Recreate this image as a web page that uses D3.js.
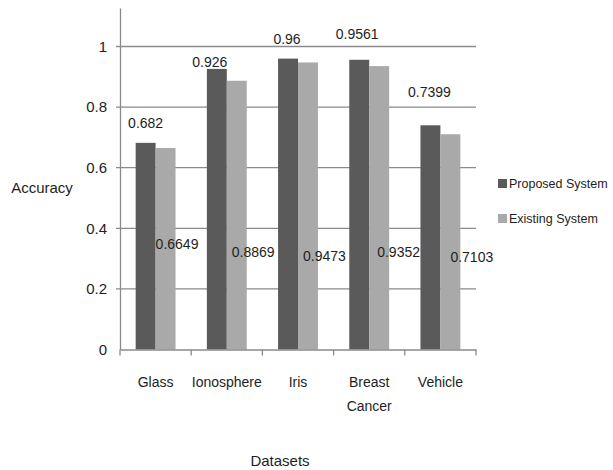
<!DOCTYPE html>
<html>
<head>
<meta charset="utf-8">
<script src="https://cdn.jsdelivr.net/npm/d3@7"></script>
<style>
  body { margin: 0; background: #fff; }
  text { font-family: "Liberation Sans", Arial, sans-serif; fill: #1e1e1e; }
</style>
</head>
<body>
<div id="chart-area"></div>
<script>
// data
const datasets = ["Glass", "Ionosphere", "Iris", "Breast Cancer", "Vehicle"]
const seriesNames = ["Proposed System", "Existing System"]
const proposed = [0.682, 0.926, 0.96, 0.9561, 0.7399]
const existing = [0.6649, 0.8869, 0.9473, 0.9352, 0.7103]
const yTicks = [0, 0.2, 0.4, 0.6, 0.8, 1]

// label nudges (layout only), the labels in the original were dragged by hand
const proposedNudge = [[0, -20], [-7, -7], [-1, -20], [-2, -26], [-1, -33]]
const existingNudge = [[0, 244], [5, 252], [5, 256], [8, 252], [10, 257]]

const colors = ["#5a5a5a", "#a9a9a9"]

function drawChart() {
    const svgWidth = 613
    const svgHeight = 470
    const margin = { left: 120, right: 137, top: 8, bottom: 120.5 }
    const chartWidth = svgWidth - margin.left - margin.right
    const chartHeight = svgHeight - margin.top - margin.bottom

    const svg = d3.select("#chart-area")
      .append("svg")
      .attr("width", svgWidth)
      .attr("height", svgHeight)

    const chart = svg.append("g")
      .attr("transform", `translate(${margin.left},${margin.top})`)

    const xScale = d3.scaleBand()
        .domain(datasets)
        .range([0, chartWidth])
        .padding(0)

    const xInner = d3.scaleBand()
        .domain(seriesNames)
        .range([xScale.bandwidth() * 0.22, xScale.bandwidth() * 0.78])

    const yScale = d3.scaleLinear()
        .domain([0, 1.127])
        .range([chartHeight, 0])

    // gridlines
    chart.append("g")
        .selectAll("line")
        .data(yTicks.filter(d => d > 0))
        .join("line")
        .attr("x1", -4)
        .attr("x2", chartWidth)
        .attr("y1", d => yScale(d))
        .attr("y2", d => yScale(d))
        .attr("stroke", "#8a8a8a")
        .attr("stroke-width", 1.3)

    // bars
    const rows = datasets.map((d, i) => ({ name: d, values: [proposed[i], existing[i]] }))

    const groups = chart.append("g")
        .selectAll("g")
        .data(rows)
        .join("g")
        .attr("transform", d => `translate(${xScale(d.name)},0)`)

    groups.selectAll("rect")
        .data(d => d.values.map((v, j) => ({ series: seriesNames[j], value: v, j })))
        .join("rect")
        .attr("x", d => xInner(d.series))
        .attr("width", xInner.bandwidth())
        .attr("y", d => yScale(d.value))
        .attr("height", d => chartHeight - yScale(d.value))
        .attr("fill", d => colors[d.j])

    // value labels
    chart.append("g")
        .selectAll("text")
        .data(proposed)
        .join("text")
        .attr("x", (d, i) => xScale(datasets[i]) + xInner(seriesNames[0]) + xInner.bandwidth() / 2 + proposedNudge[i][0])
        .attr("y", (d, i) => yScale(d) + proposedNudge[i][1])
        .attr("dy", "0.35em")
        .attr("text-anchor", "middle")
        .style("font-size", "14px")
        .text(d => d)

    chart.append("g")
        .selectAll("text")
        .data(existing)
        .join("text")
        .attr("x", (d, i) => xScale(datasets[i]) + xInner(seriesNames[1]) + existingNudge[i][0])
        .attr("y", (d, i) => existingNudge[i][1] - margin.top)
        .attr("dy", "0.35em")
        .attr("text-anchor", "start")
        .style("font-size", "14px")
        .text(d => d)

    // x axis
    const xAxis = chart.append("g")
        .attr("transform", `translate(0,${chartHeight})`)
        .call(d3.axisBottom(xScale).tickSize(0).tickFormat(""))
    xAxis.select(".domain").attr("stroke", "#8a8a8a").attr("stroke-width", 1.3)

    xAxis.append("g")
        .selectAll("line")
        .data(d3.range(datasets.length + 1))
        .join("line")
        .attr("x1", i => i * xScale.step())
        .attr("x2", i => i * xScale.step())
        .attr("y1", 0)
        .attr("y2", 6)
        .attr("stroke", "#8a8a8a")
        .attr("stroke-width", 1.3)

    xAxis.append("g")
        .selectAll("text")
        .data(datasets)
        .join("text")
        .attr("x", d => xScale(d) + xScale.bandwidth() / 2)
        .attr("y", 33)
        .attr("dy", "0.35em")
        .attr("text-anchor", "middle")
        .style("font-size", "14px")
        .each(function(d) {
            const words = d.split(" ")
            d3.select(this).selectAll("tspan")
              .data(words)
              .join("tspan")
              .attr("x", xScale(d) + xScale.bandwidth() / 2)
              .attr("dy", (w, k) => k === 0 ? "0.35em" : "1.7em")
              .text(w => w)
        })

    xAxis.append("text")
        .attr("x", 160)
        .attr("y", 111)
        .attr("dy", "0.35em")
        .attr("text-anchor", "middle")
        .style("font-size", "15px")
        .text("Datasets")

    // y axis
    const yAxis = chart.append("g")
        .call(d3.axisLeft(yScale).tickValues(yTicks).tickSize(0).tickPadding(13).tickFormat(d => d))
    yAxis.select(".domain").attr("stroke", "#8a8a8a").attr("stroke-width", 1.3)
    yAxis.selectAll(".tick text")
        .style("font-size", "15px")
        .style("font-family", "'Liberation Sans', Arial, sans-serif")
        .attr("fill", "#1e1e1e")

    yAxis.append("text")
        .attr("x", -78)
        .attr("y", 180)
        .attr("dy", "0.35em")
        .attr("text-anchor", "middle")
        .style("font-size", "15px")
        .text("Accuracy")

    // legend
    const legend = svg.append("g")
        .attr("transform", "translate(498,0)")
        .selectAll("g")
        .data(seriesNames)
        .join("g")
        .attr("transform", (d, i) => `translate(0,${184 + i * 35})`)

    legend.append("rect")
        .attr("x", 0)
        .attr("y", -5)
        .attr("width", 9)
        .attr("height", 9)
        .attr("fill", (d, i) => colors[i])

    legend.append("text")
        .attr("x", 11)
        .attr("y", 0)
        .attr("dy", "0.35em")
        .style("font-size", "12.5px")
        .text(d => d)
}

drawChart()
</script>
</body>
</html>
